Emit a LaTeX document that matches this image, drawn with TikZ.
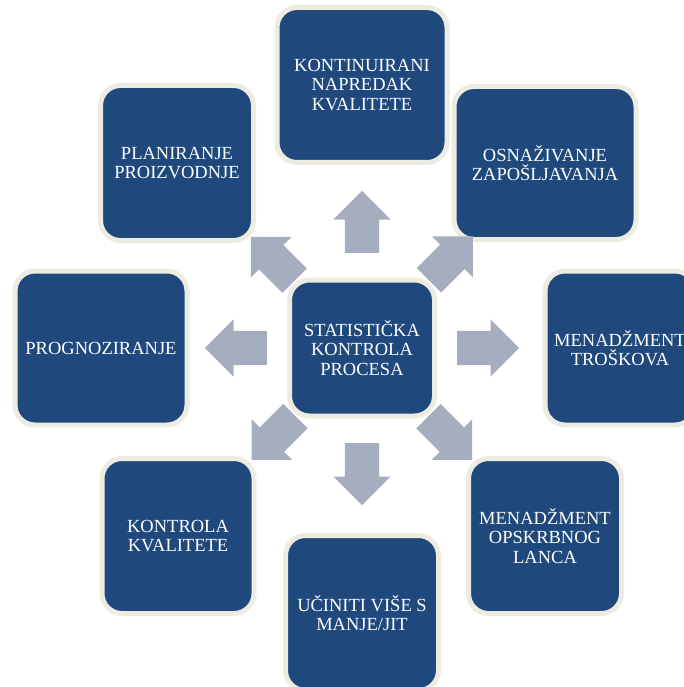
\documentclass[tikz,border=0pt]{standalone}
\usepackage{fontspec}
\setmainfont{Liberation Serif}
\usepackage{xcolor}
\usepackage{tikz}
\usetikzlibrary{positioning,shapes.arrows,calc}

\definecolor{boxblue}{HTML}{1F497D}
\definecolor{boxrim}{HTML}{EEECE1}
\definecolor{arrgrey}{HTML}{A6ADBF}

\begin{document}
\begin{tikzpicture}
		[x=1pt,y=-1pt,on grid,
		topic/.style={rectangle,rounded corners=20pt,fill=boxblue,draw=boxrim,line width=5pt,text=white,align=center,inner sep=2pt,font=\fontsize{18.5}{19.5}\selectfont},
		blockarr/.style={single arrow,fill=arrgrey,anchor=tail,inner xsep=0pt,inner ysep=17pt,minimum height=62pt,minimum width=57pt,single arrow head extend=11.5pt,single arrow tip angle=90}]
		\useasboundingbox (0,0) rectangle (683,687);
		\node[topic,minimum width=145pt,minimum height=136pt] (spc) at (362,348) {STATISTIČKA\\KONTROLA\\PROCESA};
		\node[topic,minimum width=170pt,minimum height=155pt] (kont) [above=263pt of spc] {KONTINUIRANI\\NAPREDAK\\KVALITETE};
		\node[topic,minimum width=182pt,minimum height=153pt] (osn) [above right=185pt and 183pt of spc] {OSNAŽIVANJE\\ZAPOŠLJAVANJA};
		\node[topic,minimum width=150pt,minimum height=154pt] (mentr) [right=258pt of spc] {MENADŽMENT\\TROŠKOVA};
		\node[topic,minimum width=153pt,minimum height=155pt] (menops) [below right=188pt and 183pt of spc] {MENADŽMENT\\OPSKRBNOG\\LANCA};
		\node[topic,minimum width=153pt,minimum height=155pt] (ucin) [below=265pt of spc] {UČINITI VIŠE S\\MANJE/JIT};
		\node[topic,minimum width=152pt,minimum height=155pt] (kontr) [below left=188pt and 184pt of spc] {KONTROLA\\KVALITETE};
		\node[topic,minimum width=172pt,minimum height=154pt] (prog) [left=261pt of spc] {PROGNOZIRANJE};
		\node[topic,minimum width=153pt,minimum height=155pt] (plan) [above left=185pt and 185pt of spc] {PLANIRANJE\\PROIZVODNJE};
		\foreach \b/\a in {kont/90,osn/45,mentr/0,menops/-45,ucin/-90,kontr/-135,prog/180,plan/135}
			\node[blockarr,rotate=\a] (arr-\b) at ($(spc)!95pt!(\b)$) {};
		\end{tikzpicture}
\end{document}
